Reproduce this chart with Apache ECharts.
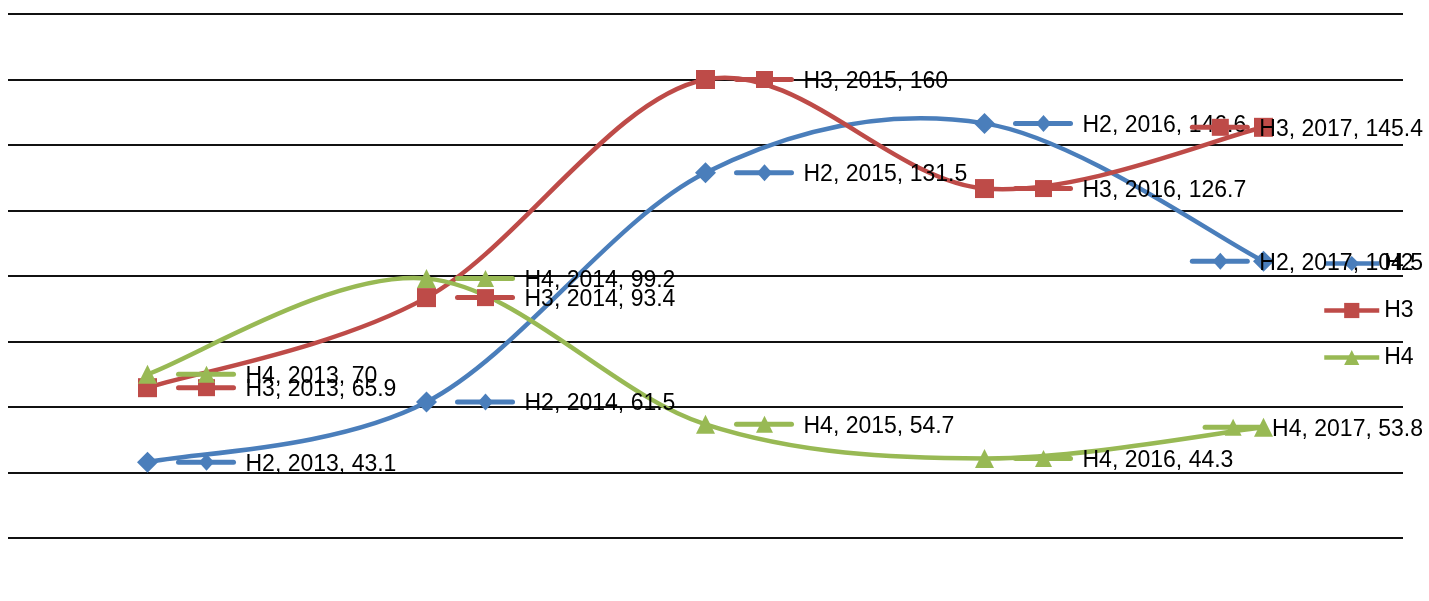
<!DOCTYPE html>
<html><head><meta charset="utf-8">
<script src="https://cdn.jsdelivr.net/npm/echarts@6/dist/echarts.min.js"></script>
<style>html,body{margin:0;padding:0;background:#fff}#c{width:1429px;height:601px}</style>
</head><body><div id="c"></div>
<script>
// ---- data ----
const categories = ['2013', '2014', '2015', '2016', '2017'];
const seriesNames = ['H2', 'H3', 'H4'];
const h2Values = [43.1, 61.5, 131.5, 146.6, 104.5];
const h3Values = [65.9, 93.4, 160, 126.7, 145.4];
const h4Values = [70, 99.2, 54.7, 44.3, 53.8];
const yMin = 20, yMax = 180, yStep = 20;

// ---- styles ----
const colors = ['#4A7EBB', '#BE4B48', '#98B954'];
const symbols = ['diamond', 'rect', 'triangle'];
const symbolSizes = [21, 19, 19];
const FONT = '"Liberation Sans", Arial, sans-serif';
const FONT_SIZE = 23;
const LABEL_RIGHT_LIMIT = 1423;

const allValues = [h2Values, h3Values, h4Values];

const measureCtx = document.createElement('canvas').getContext('2d');
measureCtx.font = FONT_SIZE + 'px ' + FONT;
function textWidth(t) { return measureCtx.measureText(t).width; }

function markerShape(kind, cx, cy, s, color) {
  const h = s / 2;
  if (kind === 'rect') {
    return { type: 'rect', shape: { x: cx - h, y: cy - h, width: s, height: s }, style: { fill: color } };
  }
  if (kind === 'diamond') {
    return { type: 'polygon', shape: { points: [[cx, cy - h], [cx + h * 0.9, cy], [cx, cy + h], [cx - h * 0.9, cy]] }, style: { fill: color } };
  }
  return { type: 'polygon', shape: { points: [[cx, cy - h], [cx + h, cy + h], [cx - h, cy + h]] }, style: { fill: color } };
}

const series = [];

// smooth (Catmull-Rom) curves, one segment per data item
allValues.forEach((vals, si) => {
  series.push({
    type: 'custom',
    name: seriesNames[si] + '-curve',
    z: 2,
    silent: true,
    data: vals.slice(0, vals.length - 1).map((v, i) => [i, v]),
    encode: { x: 0, y: 1 },
    renderItem: function (params, api) {
      const i = api.value(0);
      const n = vals.length;
      const P = (j) => { j = Math.max(0, Math.min(n - 1, j)); return api.coord([j, vals[j]]); };
      const p0 = P(i - 1), p1 = P(i), p2 = P(i + 1), p3 = P(i + 2);
      const cp1 = [p1[0] + (p2[0] - p0[0]) / 6, p1[1] + (p2[1] - p0[1]) / 6];
      const cp2 = [p2[0] - (p3[0] - p1[0]) / 6, p2[1] - (p3[1] - p1[1]) / 6];
      return {
        type: 'bezierCurve',
        shape: { x1: p1[0], y1: p1[1], x2: p2[0], y2: p2[1], cpx1: cp1[0], cpy1: cp1[1], cpx2: cp2[0], cpy2: cp2[1] },
        style: { stroke: colors[si], lineWidth: 4.5, fill: null, lineCap: 'round' }
      };
    }
  });
});

// markers (also drive the legend)
allValues.forEach((vals, si) => {
  series.push({
    type: 'line',
    name: seriesNames[si],
    z: 3,
    data: vals,
    symbol: symbols[si],
    symbolSize: symbolSizes[si],
    showSymbol: true,
    showAllSymbol: true,
    lineStyle: { width: 0, color: colors[si] },
    itemStyle: { color: colors[si] },
    color: colors[si],
    emphasis: { disabled: true },
    animation: false
  });
});

// data labels with legend key
allValues.forEach((vals, si) => {
  series.push({
    type: 'custom',
    name: seriesNames[si] + '-label',
    z: 4,
    silent: true,
    data: vals.map((v, i) => [i, v]),
    encode: { x: 0, y: 1 },
    renderItem: function (params, api) {
      const i = api.value(0);
      const v = vals[i];
      const p = api.coord([i, v]);
      const text = seriesNames[si] + ', ' + categories[i] + ', ' + v;
      const w = textWidth(text);
      let tx = p[0] + 98;
      if (tx + w > LABEL_RIGHT_LIMIT) tx = LABEL_RIGHT_LIMIT - w;
      const y = p[1];
      return {
        type: 'group',
        children: [
          { type: 'line', shape: { x1: tx - 67, y1: y, x2: tx - 12, y2: y }, style: { stroke: colors[si], lineWidth: 5, lineCap: 'round' } },
          markerShape(symbols[si], tx - 39, y, 17, colors[si]),
          { type: 'text', style: { text: text, x: tx, y: y + 2, font: FONT_SIZE + 'px ' + FONT, fill: '#000', verticalAlign: 'middle', align: 'left' } }
        ]
      };
    }
  });
});

const chart = echarts.init(document.getElementById('c'), null, { renderer: 'canvas' });
chart.setOption({
  animation: false,
  backgroundColor: '#fff',
  color: colors,
  grid: { left: 8, right: 26, top: 14, bottom: 63, containLabel: false },
  xAxis: {
    type: 'category',
    data: categories,
    boundaryGap: true,
    axisLine: { show: false },
    axisTick: { show: false },
    axisLabel: { show: false },
    splitLine: { show: false }
  },
  yAxis: {
    type: 'value',
    min: yMin, max: yMax, interval: yStep,
    axisLine: { show: false },
    axisTick: { show: false },
    axisLabel: { show: false },
    splitLine: { show: true, lineStyle: { color: '#111', width: 2 } }
  },
  legend: {
    data: seriesNames,
    orient: 'vertical',
    left: 1317,
    top: 247,
    itemWidth: 55,
    itemHeight: 19,
    itemGap: 24,
    selectedMode: false,
    lineStyle: { width: 4.5 },
    textStyle: { fontSize: FONT_SIZE, fontFamily: FONT, color: '#000', lineHeight: 18, padding: [0, 0, 0, 0] }
  },
  series: series
});
</script>
</body></html>
